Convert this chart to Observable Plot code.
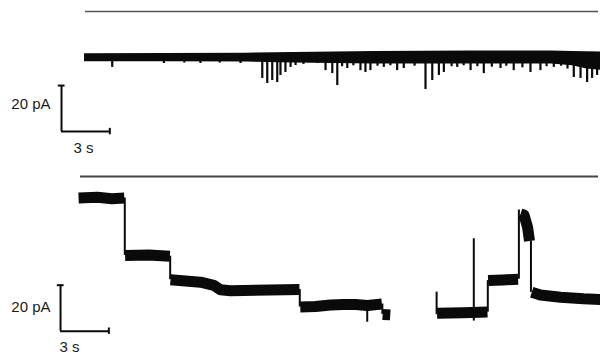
<!DOCTYPE html>
<html>
<head>
<meta charset="utf-8">
<script src="https://cdn.jsdelivr.net/npm/d3@7"></script>
<script src="https://cdn.jsdelivr.net/npm/@observablehq/plot@0.6"></script>
<style>
  html, body { margin: 0; padding: 0; background: #fff; }
  #chart { width: 600px; }
  #chart svg { display: block; }
</style>
</head>
<body>
<div id="chart"></div>
<script>
// ---------- data (time in s, current in pA) ----------
const timeDomain = [-5.22, 32.05];

// top recording
const topApplication = [{start: 0.06, end: 31.93, level: 20.0}];
const topBand = [
  {t: 0.0,  lo: -1.8, hi: 1.6},
  {t: 5.0,  lo: -1.8, hi: 1.7},
  {t: 10.0, lo: -2.0, hi: 1.9},
  {t: 13.0, lo: -2.4, hi: 2.2},
  {t: 18.0, lo: -2.8, hi: 2.6},
  {t: 24.0, lo: -2.8, hi: 2.8},
  {t: 29.0, lo: -2.8, hi: 2.8},
  {t: 30.3, lo: -3.6, hi: 2.6},
  {t: 31.2, lo: -5.0, hi: 2.5},
  {t: 32.05, lo: -5.5, hi: 2.4}
];
const topSpikeTimes = [1.72, 4.93, 6.2, 7.2, 8.4, 9.69, 11.04, 11.35, 11.66, 11.97, 12.17, 12.48, 12.8, 13.11,
  13.6, 14.04, 14.45, 14.97, 15.39, 15.7, 16.0, 16.32, 16.7, 17.14, 17.45, 17.76, 18.2, 18.59, 19.0, 19.42, 19.83,
  20.5, 21.18, 21.6, 22.01, 22.32, 22.8, 23.15, 23.55, 23.98, 24.4, 24.8, 25.3, 25.84, 26.2, 26.66, 27.2, 27.7,
  28.32, 28.7, 29.15, 29.6, 30.0, 30.39, 30.81, 31.22, 31.53, 31.84];
const topSpikeAmps = [-4.3, -2.6, -2.4, -2.6, -2.4, -2.6, -9.1, -11.3, -10.0, -10.9, -7.8, -6.5, -4.3, -3.5,
  -3.0, -2.2, -2.6, -5.7, -7.0, -12.2, -4.0, -4.8, -3.6, -5.7, -6.5, -5.7, -3.8, -4.3, -3.6, -5.7, -4.8,
  -3.8, -13.9, -10.0, -7.8, -6.5, -4.0, -4.3, -3.6, -5.7, -4.0, -7.0, -4.2, -4.8, -3.8, -5.7, -4.5, -6.5,
  -5.7, -4.0, -4.3, -3.8, -5.0, -8.7, -9.1, -10.9, -9.1, -7.8];
const topScaleBar = {t: -1.43, i: -32.2, seconds: 3, pA: 20};
const topLabels = [
  {t: -2.11, i: -20.4, text: "20 pA", anchor: "end"},
  {t: -0.06, i: -39.6, text: "3 s", anchor: "middle"}
];

// bottom recording
const bottomApplication = [{start: -0.25, end: 31.93, level: 59.6}];
const bottomLevels = [
  {seg: 1, t: -0.37, i: 50.2}, {seg: 1, t: 0.8, i: 50.5}, {seg: 1, t: 1.7, i: 49.9}, {seg: 1, t: 2.47, i: 50.2},
  {seg: 2, t: 2.52, i: 25.2}, {seg: 2, t: 4.0, i: 25.4}, {seg: 2, t: 5.3, i: 24.9},
  {seg: 3, t: 5.34, i: 14.7}, {seg: 3, t: 7.2, i: 13.6}, {seg: 3, t: 8.03, i: 12.2}, {seg: 3, t: 8.45, i: 10.3},
  {seg: 3, t: 9.07, i: 9.9}, {seg: 3, t: 11.5, i: 10.2}, {seg: 3, t: 13.35, i: 10.4},
  {seg: 4, t: 13.4, i: 2.8}, {seg: 4, t: 14.35, i: 3.0}, {seg: 4, t: 15.28, i: 3.7}, {seg: 4, t: 16.09, i: 3.9},
  {seg: 4, t: 16.83, i: 3.9}, {seg: 4, t: 17.58, i: 3.5}, {seg: 4, t: 18.47, i: 4.1},
  {seg: 5, t: 18.52, i: -0.4}, {seg: 5, t: 18.99, i: -0.6},
  {seg: 6, t: 21.9, i: 0.1}, {seg: 6, t: 23.5, i: 0.3}, {seg: 6, t: 25.03, i: 0.6},
  {seg: 7, t: 25.07, i: 14.3}, {seg: 7, t: 26.0, i: 14.6}, {seg: 7, t: 26.93, i: 14.9},
  {seg: 8, t: 27.08, i: 43.3}, {seg: 8, t: 27.3, i: 42.8}, {seg: 8, t: 27.52, i: 37.5}, {seg: 8, t: 27.64, i: 31.5},
  {seg: 9, t: 27.78, i: 9.2}, {seg: 9, t: 28.32, i: 8.0}, {seg: 9, t: 29.57, i: 7.1}, {seg: 9, t: 30.99, i: 6.4}, {seg: 9, t: 32.05, i: 6.1}
];
const bottomSteps = [
  {t: 2.5, from: 50.2, to: 25.2},
  {t: 5.32, from: 24.9, to: 14.7},
  {t: 13.37, from: 10.4, to: 2.8},
  {t: 18.5, from: 4.1, to: -0.4},
  {t: 21.87, from: -0.5, to: 9.3},
  {t: 25.05, from: 0.6, to: 14.3},
  {t: 26.98, from: 14.9, to: 45.0},
  {t: 27.73, from: 31.5, to: 9.2}
];
const bottomSpikes = [
  {t: 17.56, lo: -3.8, hi: 3.5},
  {t: 24.18, lo: -3.3, hi: 32.5}
];
const bottomScaleBar = {t: -1.49, i: -7.7, seconds: 3, pA: 20};
const bottomLabels = [
  {t: -2.11, i: 2.6, text: "20 pA", anchor: "end"},
  {t: -0.93, i: -14.6, text: "3 s", anchor: "middle"}
];

// ---------- drawing ----------
const ink = "#0a0a0a";
const font = "'Liberation Sans', Arial, sans-serif";

function scaleBarMarks(sb) {
  return [
    Plot.ruleX([sb], {x: "t", y1: "i", y2: d => d.i + d.pA, stroke: ink, strokeWidth: 2}),
    Plot.ruleY([sb], {y: "i", x1: "t", x2: d => d.t + d.seconds, stroke: ink, strokeWidth: 2}),
    Plot.ruleY([sb], {y: d => d.i + d.pA, x1: d => d.t - 0.2, x2: d => d.t + 0.22, stroke: ink, strokeWidth: 2}),
    Plot.ruleX([sb], {x: d => d.t + d.seconds, y1: d => d.i - 1.4, y2: d => d.i + 1.4, stroke: ink, strokeWidth: 2})
  ];
}
function labelMarks(labels) {
  return labels.map(l => Plot.text([l], {x: "t", y: "i", text: "text", textAnchor: l.anchor,
    fontSize: 15, fill: "#1a1a1a", fontFamily: font}));
}

const topSpikes = topSpikeTimes.map((t, k) => ({t, amp: topSpikeAmps[k]}));

const topPlot = Plot.plot({
  width: 600, height: 170, margin: 0,
  style: {background: "#fff", fontFamily: font},
  x: {domain: timeDomain, axis: null},
  y: {domain: [-49.13, 24.78], axis: null},
  marks: [
    Plot.ruleY(topApplication, {y: "level", x1: "start", x2: "end", stroke: "#555", strokeWidth: 1.5}),
    Plot.areaY(topBand, {x: "t", y1: "lo", y2: "hi", fill: ink, curve: "linear"}),
    Plot.ruleX(topSpikes, {x: "t", y1: 0, y2: "amp", stroke: ink, strokeWidth: 2.2}),
    ...scaleBarMarks(topScaleBar),
    ...labelMarks(topLabels)
  ]
});

const bottomPlot = Plot.plot({
  width: 600, height: 186, margin: 0,
  style: {background: "#fff", fontFamily: font},
  x: {domain: timeDomain, axis: null},
  y: {domain: [-18.7, 62.17], axis: null},
  marks: [
    Plot.ruleY(bottomApplication, {y: "level", x1: "start", x2: "end", stroke: "#444", strokeWidth: 2}),
    Plot.ruleX(bottomSteps, {x: "t", y1: "from", y2: "to", stroke: ink, strokeWidth: 2}),
    Plot.ruleX(bottomSpikes, {x: "t", y1: "lo", y2: "hi", stroke: ink, strokeWidth: 2}),
    Plot.line(bottomLevels, {x: "t", y: "i", z: "seg", stroke: ink, strokeWidth: 11, strokeLinejoin: "round", strokeLinecap: "butt"}),
    ...scaleBarMarks(bottomScaleBar),
    ...labelMarks(bottomLabels)
  ]
});

const chart = document.getElementById("chart");
chart.append(topPlot, bottomPlot);
</script>
</body>
</html>
